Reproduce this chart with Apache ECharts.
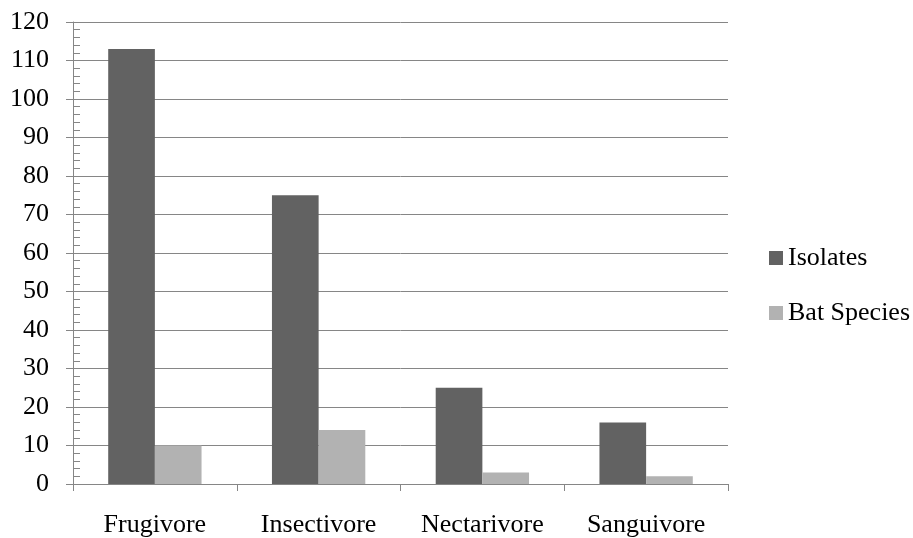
<!DOCTYPE html>
<html>
<head>
<meta charset="utf-8">
<script src="https://cdn.jsdelivr.net/npm/echarts@6/dist/echarts.min.js"></script>
<style>
  html, body { margin: 0; padding: 0; background: #fff; }
  #chart { width: 913px; height: 538px; }
</style>
</head>
<body>
<div id="chart"></div>
<script>
// Feeding guilds of bats: isolates recovered and number of bat species
const categories = ['Frugivore', 'Insectivore', 'Nectarivore', 'Sanguivore'];
const isolates = [113, 75, 25, 16];
const batSpecies = [10, 14, 3, 2];
const yTicks = { min: 0, max: 120, interval: 10 };

const lineGray = '#868686';
const serif = '"Liberation Serif", "Times New Roman", serif';

const chart = echarts.init(document.getElementById('chart'));
chart.setOption({
  animation: false,
  backgroundColor: '#fff',
  textStyle: { fontFamily: serif, color: '#000' },
  grid: { left: 73, right: 185, top: 22, bottom: 53, containLabel: false },
  legend: {
    orient: 'vertical',
    left: 764,
    top: 240,
    itemWidth: 14,
    itemHeight: 14,
    itemGap: 29,
    itemTextGap: 5,
    icon: 'rect',
    textStyle: { fontFamily: serif, fontSize: 26, color: '#000', lineHeight: 26 },
    data: ['Isolates', 'Bat Species']
  },
  xAxis: {
    type: 'category',
    data: categories,
    boundaryGap: true,
    axisLine: { show: true, lineStyle: { color: lineGray, width: 1 } },
    axisTick: { show: true, length: 7, alignWithLabel: false, lineStyle: { color: lineGray } },
    axisLabel: { fontFamily: serif, fontSize: 26, color: '#000', margin: 28 },
    splitLine: { show: false }
  },
  yAxis: [
    {
      type: 'value',
      min: yTicks.min,
      max: yTicks.max,
      interval: yTicks.interval,
      axisLine: { show: true, lineStyle: { color: lineGray, width: 1 } },
      axisTick: { show: true, length: 7, lineStyle: { color: lineGray } },
      axisLabel: { fontFamily: serif, fontSize: 26, color: '#000', margin: 24 },
      splitLine: { show: true, lineStyle: { color: lineGray, width: 1 } }
    },
    {
      // inward minor ticks along the value axis
      type: 'value',
      position: 'left',
      min: yTicks.min,
      max: yTicks.max,
      interval: yTicks.interval,
      axisLine: { show: false },
      axisTick: { show: false, inside: true },
      minorTick: { show: true, splitNumber: 5, length: 7, lineStyle: { color: lineGray, width: 1 } },
      axisLabel: { show: false },
      splitLine: { show: false }
    }
  ],
  series: [
    {
      name: 'Isolates',
      type: 'bar',
      data: isolates,
      barGap: '0%',
      barCategoryGap: '43%',
      itemStyle: { color: '#626262' }
    },
    {
      name: 'Bat Species',
      type: 'bar',
      data: batSpecies,
      barGap: '0%',
      barCategoryGap: '43%',
      itemStyle: { color: '#b2b2b2' }
    }
  ]
});
</script>
</body>
</html>
